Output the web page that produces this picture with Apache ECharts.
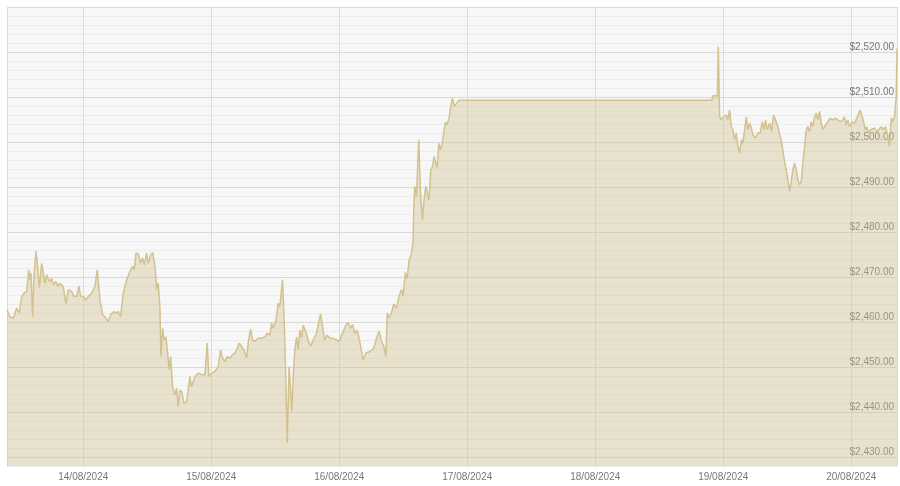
<!DOCTYPE html>
<html>
<head>
<meta charset="utf-8">
<script src="https://cdn.jsdelivr.net/npm/echarts@6/dist/echarts.min.js"></script>
<style>
  html, body { margin: 0; padding: 0; background: #ffffff; }
  #chart { width: 900px; height: 486px; }
</style>
</head>
<body>
<div id="chart"></div>
<script>
// Base day (hours below are counted from 13/08/2024 00:00)
const baseDay = [2024, 7, 13];

// Time of each price, hours from base day
const hours = [
  9.70, 10.26, 10.88, 11.52, 12.01, 12.46, 12.89, 13.39, 13.77, 14.01,
  14.20, 14.52, 14.76, 15.14, 15.45, 15.75, 16.20, 16.50, 16.82, 17.14,
  17.63, 18.08, 18.38, 18.88, 19.31, 19.63, 20.25, 20.76, 21.19, 21.83,
  22.26, 22.76, 23.19, 23.51, 24.00, 24.51, 24.94, 25.57, 26.19, 26.62,
  27.13, 27.64, 28.07, 28.69, 29.13, 29.62, 30.13, 30.56, 31.01, 31.50,
  32.13, 32.75, 33.26, 33.56, 33.88, 34.31, 34.76, 35.13, 35.43, 35.88,
  36.18, 36.63, 37.01, 37.44, 37.76, 38.06, 38.37, 38.56, 38.88, 39.18,
  39.50, 39.82, 40.12, 40.38, 40.75, 41.18, 41.50, 41.80, 42.12, 42.50,
  42.87, 43.38, 44.00, 44.31, 44.93, 45.55, 46.19, 46.81, 47.24, 47.56,
  48.06, 48.68, 49.30, 49.75, 50.12, 50.55, 50.99, 51.49, 52.00, 52.43,
  52.75, 53.23, 53.68, 54.12, 54.62, 54.92, 55.37, 55.75, 56.18, 56.80,
  57.43, 58.05, 58.48, 58.99, 59.31, 59.61, 60.11, 60.54, 60.86, 61.37,
  61.71, 61.99, 62.24, 62.60, 62.87, 63.11, 63.35, 63.67, 63.99, 64.29,
  64.61, 64.93, 65.23, 65.73, 66.17, 66.61, 67.10, 67.74, 68.11, 68.49,
  68.86, 69.29, 69.73, 70.23, 70.85, 71.49, 71.97, 72.61, 73.23, 73.66,
  74.11, 74.49, 74.92, 75.35, 75.72, 76.04, 76.47, 76.98, 77.60, 78.23,
  78.66, 78.98, 79.47, 79.92, 80.35, 80.73, 81.01, 81.34, 81.79, 82.22,
  82.73, 83.22, 83.67, 83.97, 84.38, 84.72, 85.09, 85.54, 85.84, 85.97,
  86.16, 86.48, 86.91, 87.23, 87.60, 87.90, 88.22, 88.54, 88.84, 89.16,
  89.48, 89.78, 90.10, 90.34, 90.66, 90.98, 91.35, 91.65, 91.91, 92.21,
  92.59, 92.91, 93.23, 93.60, 93.98, 94.46, 141.87, 142.06, 142.89, 143.07,
  143.32, 143.64, 143.94, 144.25, 144.57, 144.87, 145.19, 145.51, 145.81, 146.13,
  146.45, 146.75, 147.07, 147.38, 147.68, 148.00, 148.32, 148.62, 148.94, 149.26,
  149.56, 150.06, 150.50, 150.94, 151.32, 151.62, 151.94, 152.26, 152.69, 153.06,
  153.44, 153.81, 154.24, 154.69, 155.07, 155.50, 155.82, 156.12, 156.44, 156.75,
  157.05, 157.37, 157.69, 157.99, 158.31, 158.63, 158.93, 159.25, 159.57, 159.87,
  160.18, 160.50, 160.80, 161.12, 161.44, 161.74, 162.06, 162.38, 162.68, 163.18,
  163.61, 164.06, 164.55, 165.06, 165.49, 165.94, 166.42, 166.74, 167.06, 167.36,
  167.68, 168.19, 168.62, 169.05, 169.42, 169.68, 170.06, 170.36, 170.68, 170.92,
  171.18, 171.56, 171.93, 172.36, 172.80, 173.17, 173.62, 174.05, 174.43, 174.86,
  175.18, 175.49, 175.79, 176.11, 176.43, 176.58
];

// Gold price, USD
const prices = [
  2462.7, 2461.1, 2460.9, 2463.1, 2462.0, 2465.7, 2466.4, 2466.8, 2471.6, 2469.4,
  2470.9, 2461.2, 2470.2, 2475.7, 2472.4, 2467.6, 2473.0, 2470.9, 2468.6, 2470.5,
  2469.0, 2469.7, 2468.3, 2469.0, 2467.9, 2468.6, 2467.9, 2464.0, 2467.2, 2466.8,
  2465.7, 2465.7, 2468.0, 2465.7, 2465.7, 2464.9, 2465.7, 2466.4, 2467.9, 2471.6,
  2464.9, 2461.6, 2461.2, 2460.1, 2461.6, 2462.3, 2462.0, 2462.3, 2461.2, 2466.4,
  2469.4, 2471.2, 2472.4, 2471.6, 2475.3, 2475.1, 2473.1, 2474.2, 2472.7, 2475.3,
  2473.1, 2474.9, 2475.4, 2472.7, 2467.2, 2468.6, 2463.4, 2452.3, 2458.6, 2456.0,
  2456.7, 2453.1, 2449.4, 2452.3, 2445.6, 2443.8, 2445.3, 2441.2, 2444.9, 2444.5,
  2442.0, 2442.3, 2447.9, 2445.6, 2447.9, 2448.6, 2448.3, 2448.3, 2455.3, 2447.9,
  2448.6, 2449.0, 2450.1, 2453.8, 2452.0, 2451.2, 2452.3, 2452.0, 2452.7, 2453.1,
  2453.8, 2455.3, 2454.6, 2453.8, 2452.0, 2455.3, 2458.4, 2456.0, 2455.7, 2456.4,
  2456.4, 2456.7, 2457.5, 2457.1, 2459.7, 2458.6, 2460.1, 2464.2, 2463.4, 2469.4,
  2459.0, 2447.0, 2433.1, 2450.1, 2444.9, 2440.1, 2447.9, 2453.8, 2456.7, 2453.8,
  2458.2, 2456.4, 2459.3, 2457.9, 2456.0, 2454.6, 2456.0, 2457.5, 2459.7, 2461.8,
  2459.0, 2456.0, 2457.1, 2456.4, 2456.4, 2456.0, 2455.7, 2457.5, 2459.2, 2459.9,
  2458.6, 2459.4, 2457.5, 2458.2, 2456.4, 2456.0, 2451.6, 2453.1, 2453.4, 2453.8,
  2454.9, 2456.4, 2458.0, 2455.7, 2454.6, 2452.3, 2462.0, 2461.0, 2462.0, 2464.0,
  2463.1, 2465.8, 2467.2, 2465.7, 2471.0, 2469.6, 2473.7, 2475.2, 2477.9, 2484.9,
  2490.1, 2487.9, 2500.5, 2488.6, 2482.7, 2487.1, 2490.1, 2488.6, 2487.1, 2493.8,
  2494.5, 2496.8, 2497.1, 2494.2, 2499.7, 2498.2, 2500.1, 2500.5, 2504.5, 2503.8,
  2505.3, 2507.9, 2509.7, 2507.9, 2508.6, 2509.3, 2509.3, 2510.3, 2510.3, 2521.2,
  2505.6, 2504.9, 2505.5, 2505.1, 2506.0, 2504.9, 2507.1, 2503.4, 2502.7, 2500.5,
  2502.0, 2499.0, 2497.5, 2500.5, 2499.7, 2502.7, 2505.6, 2502.7, 2504.2, 2503.1,
  2501.6, 2500.8, 2502.0, 2502.0, 2504.5, 2502.7, 2504.9, 2502.7, 2504.2, 2502.3,
  2506.0, 2504.9, 2503.4, 2501.2, 2499.0, 2495.6, 2493.8, 2491.6, 2489.0, 2491.2,
  2493.8, 2495.3, 2493.8, 2491.6, 2490.5, 2491.2, 2495.3, 2499.0, 2502.7, 2503.4,
  2502.3, 2504.5, 2503.4, 2505.6, 2506.4, 2504.9, 2506.8, 2504.2, 2502.7, 2503.8,
  2504.5, 2505.3, 2504.9, 2505.3, 2504.9, 2504.5, 2504.9, 2505.6, 2503.8, 2504.9,
  2503.4, 2504.5, 2504.2, 2505.3, 2505.3, 2507.1, 2505.6, 2506.0, 2502.7, 2503.4,
  2502.0, 2502.7, 2502.3, 2503.1, 2502.3, 2502.7, 2503.4, 2502.7, 2503.4, 2501.2,
  2499.0, 2505.3, 2504.5, 2505.6, 2510.1, 2520.8
];

// Price axis range and tick step
const yMin = 2428;
const yMax = 2530;
const yStep = 2;
const yLabelStep = 10;

const baseTime = new Date(baseDay[0], baseDay[1], baseDay[2]).getTime();
const seriesData = hours.map((h, i) => [baseTime + h * 3600000, prices[i]]);

function pad(n) { return n < 10 ? '0' + n : '' + n; }

const chart = echarts.init(document.getElementById('chart'), null, { renderer: 'canvas' });
chart.setOption({
  animation: false,
  backgroundColor: '#ffffff',
  grid: {
    left: 7, right: 3, top: 7, bottom: 20,
    show: true, backgroundColor: '#f7f7f7', borderWidth: 0,
    containLabel: false
  },
  xAxis: {
    type: 'time',
    min: 'dataMin',
    max: 'dataMax',
    minInterval: 86400000,
    maxInterval: 86400000,
    axisLine: { show: false },
    axisTick: { show: false },
    splitLine: { show: true, lineStyle: { color: '#dcdcdc', width: 1 } },
    axisLabel: {
      margin: 6,
      fontSize: 10,
      fontFamily: 'Liberation Sans',
      color: '#777777',
      formatter: function (v) {
        const d = new Date(v);
        return pad(d.getDate()) + '/' + pad(d.getMonth() + 1) + '/' + d.getFullYear();
      }
    }
  },
  yAxis: {
    type: 'value',
    position: 'right',
    min: yMin,
    max: yMax,
    interval: yStep,
    axisLine: { show: false },
    axisTick: { show: false },
    splitLine: {
      show: true,
      lineStyle: { color: ['#ececec', '#d9d9d9', '#ececec', '#ececec', '#ececec'], width: 1 }
    },
    axisLabel: {
      inside: true,
      showMaxLabel: false,
      margin: 3,
      fontSize: 10,
      fontFamily: 'Liberation Sans',
      color: '#777777',
      verticalAlign: 'bottom',
      formatter: function (v) {
        if (Math.round(v) % yLabelStep !== 0 || v >= yMax) return '';
        return '$' + v.toLocaleString('en-US', { minimumFractionDigits: 2, maximumFractionDigits: 2 });
      }
    }
  },
  series: [{
    type: 'line',
    data: seriesData,
    showSymbol: false,
    symbol: 'none',
    sampling: null,
    lineStyle: { color: '#d3c18f', width: 1.5 },
    areaStyle: { color: 'rgba(210,192,142,0.56)' }
  }]
});
</script>
</body>
</html>
